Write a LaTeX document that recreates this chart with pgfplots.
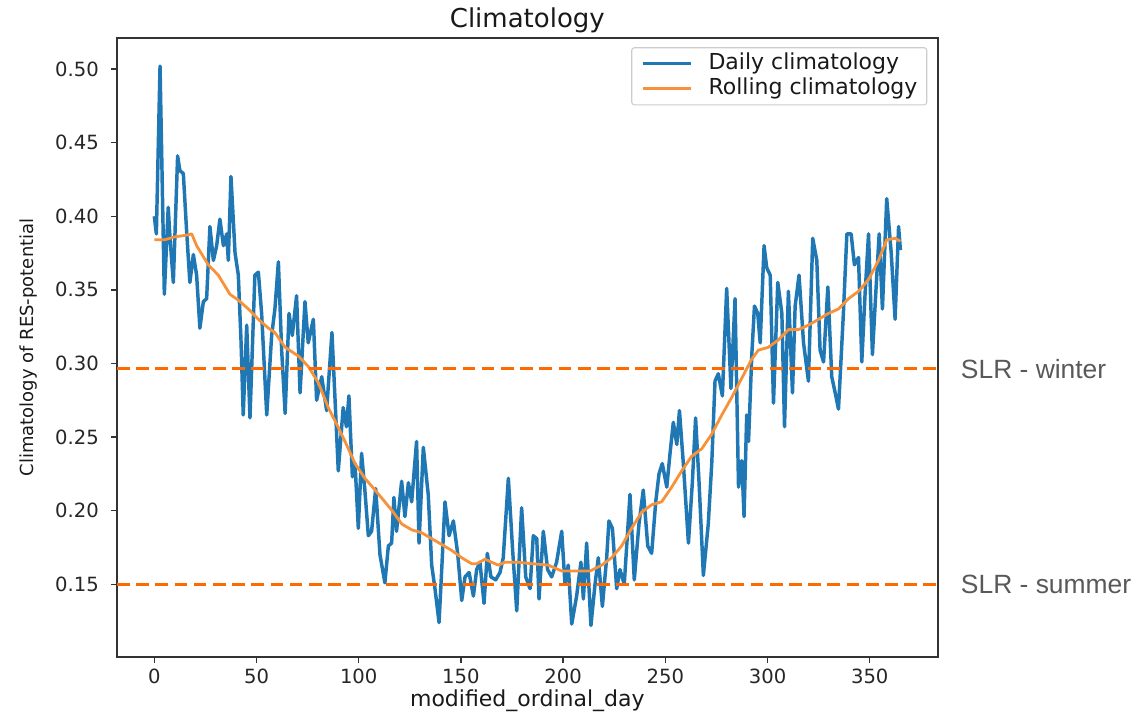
\documentclass[border=0pt]{standalone}
\usepackage{pgfplots}
\pgfplotsset{compat=1.18}
\usepackage{fontspec}
\setmainfont{DejaVu Sans}
\newfontfamily\slrfont{Liberation Sans}

\definecolor{dailyblue}{HTML}{1F77B4}
\definecolor{rollorange}{HTML}{F7923A}
\definecolor{slrline}{HTML}{FF6A00}
\definecolor{slrtext}{HTML}{595959}

% Daily climatology of the RES potential (modified ordinal day, value)
\pgfplotstableread{
day val
0 0.400
1 0.388
2.8 0.502
4.9 0.347
6.8 0.406
7.7 0.385
9.3 0.355
11.4 0.441
12.5 0.431
14.2 0.429
15.8 0.390
17.4 0.355
19.1 0.374
20.7 0.360
22.3 0.324
24.0 0.342
25.6 0.344
27.2 0.393
28.9 0.370
30.5 0.380
32.1 0.398
33.8 0.380
35.4 0.388
36.2 0.370
37.5 0.427
39.5 0.375
41.1 0.360
42.4 0.316
43.5 0.265
45.2 0.326
46.8 0.263
49.2 0.360
50.9 0.362
52.5 0.334
55.0 0.265
57.4 0.319
59.0 0.337
60.7 0.369
62.3 0.309
64.0 0.266
65.9 0.334
67.5 0.319
69.6 0.346
71.3 0.280
73.7 0.342
75.3 0.314
77.8 0.330
79.4 0.275
81.9 0.291
84.3 0.268
86.9 0.321
88.4 0.276
90.0 0.227
92.4 0.270
94.0 0.257
95.2 0.278
96.9 0.223
98.2 0.232
99.8 0.188
101.4 0.239
103.0 0.214
104.7 0.183
106.3 0.186
108.3 0.215
110.4 0.170
112.8 0.151
114.5 0.176
116.1 0.178
117.2 0.209
118.5 0.186
121.0 0.220
122.6 0.196
124.3 0.219
125.9 0.206
128.3 0.247
129.5 0.178
131.6 0.243
134.0 0.211
135.7 0.163
137.3 0.147
139.3 0.124
140.6 0.160
142.2 0.206
144.2 0.183
146.3 0.193
148.4 0.171
150.4 0.139
152.0 0.155
154.0 0.158
156.1 0.142
157.7 0.160
159.3 0.165
161.3 0.137
162.9 0.171
164.7 0.155
167.0 0.153
169.1 0.158
170.7 0.168
173.2 0.222
175.3 0.173
177.3 0.132
179.7 0.202
181.7 0.155
183.8 0.147
185.4 0.183
187.1 0.181
188.2 0.140
190.3 0.186
192.4 0.160
194.4 0.155
196.8 0.165
199.3 0.186
200.9 0.150
202.5 0.163
204.2 0.123
206.6 0.142
208.7 0.165
209.9 0.140
211.5 0.178
213.6 0.122
215.6 0.150
217.2 0.168
219.2 0.135
221.3 0.168
222.4 0.193
224.1 0.188
226.2 0.147
227.8 0.160
229.9 0.150
232.7 0.211
234.8 0.153
237.1 0.191
239.2 0.214
241.4 0.176
243.3 0.171
245.3 0.206
246.9 0.225
248.5 0.232
250.7 0.216
252.3 0.239
253.9 0.260
255.6 0.245
256.9 0.268
258.8 0.232
261.3 0.178
263.2 0.219
264.8 0.263
266.5 0.219
268.6 0.156
271.0 0.191
272.7 0.232
274.3 0.288
275.9 0.293
277.9 0.278
280.0 0.351
282.1 0.283
284.1 0.344
285.8 0.216
287.4 0.234
288.5 0.196
289.8 0.265
290.7 0.247
292.3 0.306
293.6 0.339
295.2 0.334
296.4 0.314
298.3 0.380
299.6 0.365
301.3 0.360
302.9 0.273
305.0 0.355
307.0 0.334
308.3 0.257
310.2 0.349
312.2 0.280
313.5 0.339
315.4 0.360
317.6 0.314
320.0 0.288
322.1 0.385
324.1 0.370
325.7 0.309
327.4 0.301
329.5 0.352
331.4 0.291
333.1 0.280
334.7 0.269
337.1 0.334
338.8 0.388
340.9 0.388
342.5 0.367
344.5 0.372
346.1 0.301
347.7 0.347
349.4 0.388
351.3 0.306
353.0 0.349
354.6 0.388
356.2 0.337
358.3 0.412
360.5 0.375
362.4 0.330
364.1 0.393
365.0 0.377
}\dailytable

% Rolling-window climatology
\pgfplotstableread{
day val
0 0.384
5 0.384
10 0.386
15 0.387
18.3 0.388
20.7 0.380
26.4 0.367
31.3 0.360
37.0 0.347
41.1 0.343
46.0 0.337
50.9 0.330
55.8 0.324
59.0 0.321
64.0 0.311
70.5 0.305
75.3 0.298
80.2 0.287
85.1 0.270
89.5 0.258
93.3 0.247
98.2 0.232
103.0 0.222
108.0 0.214
112.8 0.206
116.9 0.199
121.0 0.191
125.9 0.187
130.8 0.185
135.7 0.181
140.6 0.177
145.5 0.173
150.4 0.168
155.2 0.164
157.7 0.164
161.8 0.167
165.0 0.165
168.3 0.163
171.5 0.165
178.0 0.165
184.6 0.164
192.8 0.163
199.3 0.159
205.8 0.159
213.1 0.159
218.9 0.163
223.7 0.168
228.6 0.176
233.5 0.188
238.4 0.199
243.3 0.204
248.2 0.206
253.1 0.216
258.0 0.227
262.9 0.237
267.8 0.242
272.7 0.252
277.6 0.265
282.5 0.277
287.4 0.290
292.3 0.303
295.5 0.309
300.4 0.311
305.3 0.316
310.2 0.323
315.1 0.323
320.0 0.326
324.9 0.330
329.8 0.334
334.7 0.337
339.6 0.344
344.5 0.349
349.4 0.357
354.3 0.370
358.3 0.384
362.4 0.385
365.0 0.383
}\rollingtable

\begin{document}
\begin{tikzpicture}
\begin{axis}[
  name=ax,
  scale only axis,
  width=615.5pt, height=463.8pt,
  xmin=-18.25, xmax=383.25,
  ymin=0.1008, ymax=0.5209,
  clip=false,
  xtick={0,50,100,150,200,250,300,350},
  ytick={0.15,0.2,0.25,0.3,0.35,0.4,0.45,0.5},
  xtick pos=left, ytick pos=left,
  /pgf/number format/assume math mode=true,
  tick align=outside,
  major tick length=4.5pt,
  tick style={line width=1pt, black!80},
  axis line style={line width=1.4pt, black!80},
  tick label style={font=\fontsize{14.7}{17}\selectfont, text=black!85},
  xticklabel style={anchor=north, inner sep=0pt, yshift=-4.2pt},
  yticklabel style={anchor=east, inner sep=0pt, xshift=-9pt,
    /pgf/number format/fixed, /pgf/number format/fixed zerofill,
    /pgf/number format/precision=2},
  title={Climatology},
  title style={at={(axis description cs:0.5,1)}, anchor=base, inner sep=0pt,
    yshift=2.2pt, font=\fontsize{19.5}{23}\selectfont, text=black!90},
  xlabel={modified\_ordinal\_day},
  xlabel style={at={(axis description cs:0.5,-0.0813)}, anchor=base, inner sep=0pt,
    font=\fontsize{16.5}{20}\selectfont, text=black!90},
  ylabel={Climatology of RES-potential},
  every axis y label/.style={at={(axis description cs:-0.1019,0.5)}, rotate=90,
    anchor=base, inner sep=0pt, font=\fontsize{13.5}{16}\selectfont, text=black!90},
  legend cell align=left,
  legend image code/.code={\draw[#1] (0pt,0pt) -- (36pt,0pt);},
  legend style={at={(axis description cs:0.9873,0.9855)}, anchor=north east,
    draw=black!20, line width=0.8pt, rounded corners=2pt, fill=white,
    font=\fontsize{16.5}{20}\selectfont, text=black!90,
    inner xsep=7pt, inner ysep=4pt, row sep=3pt,
    nodes={inner sep=0pt, text height=12pt, text depth=3.9pt},
    /tikz/every odd column/.append style={column sep=12pt}},
]
\addplot[dailyblue, line width=2.6pt, line join=round] table[x=day, y=val] {\dailytable};
\addlegendentry{Daily climatology}
\addplot[rollorange, line width=2.1pt, line join=round] table[x=day, y=val] {\rollingtable};
\addlegendentry{Rolling climatology}

% SLR reference levels
\addplot[forget plot, slrline, line width=2.3pt, dash pattern=on 9.5pt off 4.9pt]
  coordinates {(-18.25,0.2963) (383.25,0.2963)};
\addplot[forget plot, slrline, line width=2.3pt, dash pattern=on 9.5pt off 4.9pt]
  coordinates {(-18.25,0.150) (383.25,0.150)};

\node[anchor=base west, inner sep=0pt, text=slrtext, font=\slrfont\fontsize{19.8}{23}\selectfont]
  at (axis cs:394.5,0.2895) {SLR - winter};
\node[anchor=base west, inner sep=0pt, text=slrtext, font=\slrfont\fontsize{19.8}{23}\selectfont]
  at (axis cs:394.5,0.1439) {SLR - summer};
\end{axis}
\pgfresetboundingbox
\path ([shift={(-87.75pt,-43pt)}]ax.south west) rectangle ([shift={(148.7pt,28.7pt)}]ax.north east);
\end{tikzpicture}
\end{document}
